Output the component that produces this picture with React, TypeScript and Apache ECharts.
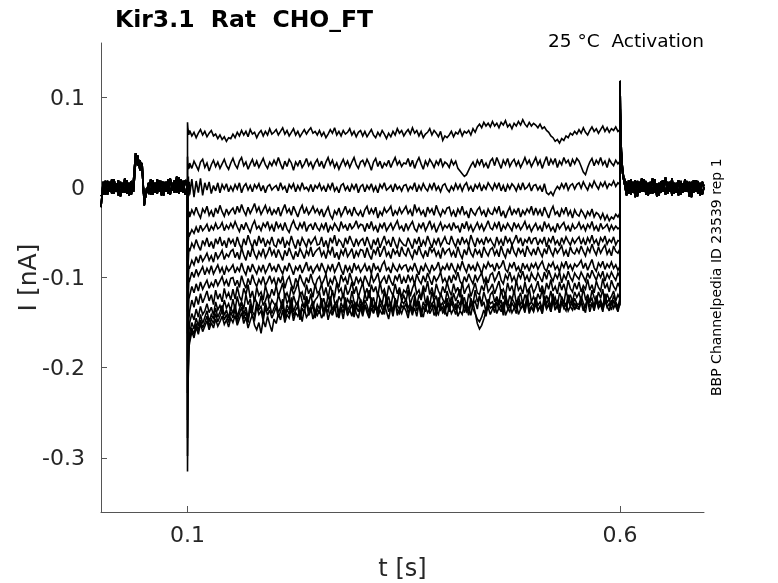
import React, { useEffect, useRef } from "react";
import * as echarts from "echarts";

// ---- sampling grids (seconds) ----
const grid = (start: number, step: number, n: number) =>
  Array.from({ length: n }, (_, i) => Math.round((start + i * step) * 1e5) / 1e5);

const preT = grid(0, 0.0025, 41);
const stepT = [0.1, 0.1004, 0.101, 0.1015, 0.102, ...grid(0.1025, 0.0025, 200)];
const postT = [0.6, 0.6004, 0.601, 0.6015, 0.602, 0.603, 0.604, 0.6055, 0.6075, 0.61, ...grid(0.6125, 0.0025, 34), 0.697];

// ---- holding segment before the step (pA) ----
const pre1 = [-22, 6, -8, 7, -5, 9, -7, 4, -9, 6, -6, 10, -7, 5, -8, 6, 38, 24, 30, 20, -16, -6, 5, -8, 8, -6, 9, -5, 7, -9, 6, -7, 10, -4, 8, -6, 11, -5, 7, -8, 0];
const pre2 = [-10, -7, 7, -8, 6, -7, 9, -5, 8, -10, 5, -6, 8, -9, 7, -5, 28, 35, 19, 27, -20, -3, -6, 9, -8, 5, -7, 8, -9, 6, -5, 9, -8, 5, -6, 12, -7, 9, -6, 8, 0];

// ---- tail after the step (pA) ----
const post1 = [118, 82, 55, 40, 30, 19, 12, 8, 4, -7, 9, -6, 8, -10, 6, -5, 9, -8, 5, -7, 10, -6, 4, -9, 7, -5, 11, -7, 6, -9, 5, -6, 8, -8, 4, -5, 7, -10, 6, -6, 8, -7, 5, -8, 0];
const post2 = [100, 70, 48, 35, 25, 15, 9, 2, -9, 8, -8, 6, -11, 7, -6, 10, -5, 7, -9, 6, -7, 9, -10, 5, -6, 8, -8, 6, -5, 10, -7, 5, -9, 7, -6, 9, -5, 6, -11, 8, -5, 7, -9, 6, 1];

// ---- step segment, one array per sweep (pA): 5 onset samples, then 0.1025 s .. 0.6 s every 2.5 ms ----
const sweep1 = [72, 66, 62, 58, 61,
  63, 57, 61, 55, 60, 64, 58, 62, 56, 60, 63, 57, 59, 54, 58, 53, 56, 51, 55, 54,
  59, 55, 61, 57, 63, 58, 62, 56, 64, 59, 61, 55, 60, 63, 57, 62, 58, 65, 59, 61,
  64, 58, 62, 66, 59, 63, 57, 61, 65, 58, 62, 56, 60, 64, 59, 63, 66, 60, 62, 58,
  63, 57, 61, 55, 59, 64, 60, 66, 58, 62, 57, 63, 59, 61, 65, 58, 62, 56, 61, 63,
  57, 62, 56, 60, 64, 58, 55, 61, 57, 63, 59, 54, 60, 56, 62, 58, 65, 60, 63, 57,
  61, 64, 59, 66, 60, 63, 57, 62, 55, 59, 61, 65, 58, 63, 60, 56, 62, 52, 57, 55,
  58, 62, 56, 61, 59, 64, 57, 62, 60, 63, 58, 65, 61, 67, 70, 66, 72, 68, 71, 67,
  73, 68, 71, 66, 72, 69, 74, 67, 70, 65, 71, 68, 73, 69, 75, 70, 67, 72, 68, 71,
  69, 66, 70, 65, 67, 63, 61, 57, 55, 51, 53, 49, 54, 52, 57, 55, 60, 58, 62, 59,
  64, 60, 66, 61, 58, 63, 67, 62, 65, 60, 64, 68, 62, 66, 61, 65, 63, 67, 62, 64];
const sweep2 = [34, 22, 20, 26, 21,
  27, 21, 29, 24, 19, 28, 31, 22, 27, 18, 25, 30, 23, 28, 21, 26, 31, 24, 20, 27,
  32, 25, 21, 29, 33, 24, 28, 20, 26, 31, 23, 29, 22, 27, 32, 25, 21, 28, 24, 30,
  25, 33, 26, 20, 29, 23, 31, 27, 19, 28, 24, 30, 22, 26, 32, 24, 28, 21, 27, 31,
  23, 29, 21, 28, 33, 25, 30, 22, 27, 20, 26, 31, 24, 29, 22, 28, 33, 25, 21, 28,
  30, 24, 31, 26, 19, 28, 32, 23, 29, 21, 27, 24, 30, 22, 28, 33, 25, 29, 23, 27,
  26, 32, 23, 30, 21, 28, 33, 26, 20, 29, 24, 31, 27, 22, 29, 25, 32, 23, 28, 26,
  22, 30, 25, 29, 21, 18, 15, 12, 14, 19, 24, 28, 22, 30, 25, 31, 23, 27, 21, 29,
  32, 24, 33, 27, 21, 30, 25, 32, 23, 28, 31, 24, 29, 22, 27, 33, 26, 30, 23, 28,
  33, 25, 30, 21, 28, 34, 24, 31, 26, 32, 22, 29, 25, 33, 27, 30, 23, 31, 26, 32,
  29, 23, 17, 14, 22, 28, 32, 24, 30, 26, 33, 25, 29, 22, 31, 27, 24, 30, 26, 29];
const sweep3 = [10, -9, 12, -10, 6,
  -8, 9, -11, 7, -6, 10, -9, 5, -3, 6, -7, 2, -4, 5, -6, 3, -2, 4, -5, 1,
  -4, 3, -2, 5, -6, 1, 4, -3, 2, -5, 3, -1, 4, -4, 2, -6, 1, 3, -3, 0,
  2, -4, 5, -2, 1, -6, 3, -1, 4, -5, 2, -3, 5, -2, 0, -4, 3, -5, 2, -1,
  4, -3, 1, -5, 3, -2, 5, -4, 0, -6, 2, 4, -3, 1, -5, 3, -2, 4, -6, 1,
  3, -5, 2, -2, 4, -4, 1, -6, 3, -1, 5, -3, -1, 2, -5, 4, -2, 1, -4, 2,
  3, -4, 1, -2, 5, -5, 2, -3, 4, -1, -4, 3, -2, 5, -3, 1, -5, 2, 4, -2,
  -5, 1, -3, 4, -2, 3, -4, 2, 5, -3, 1, -5, 3, -1, 4, -4, 2, -2, 5, 1,
  -3, 4, -1, 5, -4, 2, -5, 3, -2, 4, 1, -4, 3, -3, 5, -2, 0, 4, -4, 2,
  3, -3, 1, -5, 4, -6, -8, -5, -9, -3, 1, -2, 4, -1, 5, -3, 2, 4, -2, 3,
  5, -1, 6, 1, -3, 4, 0, 7, 2, -2, 5, 1, 6, -1, 4, 2, 7, 1, 5, 3];
const sweep4 = [-48, -36, -31, -33, -27,
  -33, -25, -30, -22, -29, -34, -24, -28, -21, -31, -26, -33, -23, -29, -20, -27, -32, -24, -30, -26,
  -23, -30, -21, -28, -19, -26, -31, -22, -29, -24, -18, -27, -22, -30, -25, -20, -28, -23, -31, -25,
  -29, -22, -32, -25, -19, -28, -24, -31, -21, -27, -33, -25, -20, -29, -23, -30, -26, -21, -28, -24,
  -30, -24, -33, -27, -22, -31, -35, -26, -30, -23, -32, -27, -21, -29, -25, -32, -22, -28, -31, -26,
  -33, -25, -21, -30, -24, -29, -22, -34, -27, -31, -23, -28, -25, -21, -32, -26, -30, -23, -29, -25,
  -21, -29, -25, -32, -19, -27, -23, -30, -26, -33, -22, -28, -24, -31, -20, -27, -32, -25, -29, -23,
  -22, -31, -26, -33, -24, -29, -21, -30, -27, -34, -23, -28, -31, -25, -22, -30, -26, -33, -24, -29,
  -30, -23, -28, -21, -32, -26, -34, -27, -22, -31, -25, -29, -23, -33, -26, -30, -24, -28, -21, -31,
  -23, -30, -25, -32, -22, -28, -34, -26, -21, -30, -27, -33, -24, -29, -22, -31, -26, -34, -25, -30,
  -32, -25, -29, -34, -27, -31, -24, -33, -28, -30, -35, -29, -36, -31, -37, -33, -35, -30, -33, -28];
const sweep5 = [-82, -63, -58, -50, -52,
  -53, -47, -51, -44, -50, -42, -48, -45, -41, -49, -43, -47, -40, -46, -44, -39, -48, -42, -46, -40,
  -45, -38, -44, -49, -41, -47, -39, -45, -50, -42, -37, -46, -43, -48, -40, -44, -38, -47, -42, -49,
  -38, -45, -41, -48, -39, -46, -50, -42, -37, -44, -47, -40, -45, -38, -49, -43, -41, -47, -39, -45,
  -48, -41, -46, -39, -50, -43, -47, -40, -44, -49, -38, -45, -42, -48, -40, -46, -43, -37, -45, -41,
  -42, -49, -40, -46, -38, -47, -43, -50, -41, -45, -39, -48, -44, -40, -47, -42, -37, -46, -43, -49,
  -40, -47, -42, -38, -46, -49, -41, -45, -39, -48, -43, -37, -46, -41, -50, -44, -39, -47, -42, -45,
  -41, -48, -39, -45, -43, -50, -40, -46, -38, -47, -42, -49, -44, -39, -46, -41, -48, -43, -37, -45,
  -47, -40, -45, -38, -49, -42, -46, -40, -44, -48, -39, -45, -41, -47, -43, -38, -46, -42, -49, -44,
  -40, -47, -43, -49, -38, -45, -41, -48, -44, -50, -40, -46, -42, -39, -47, -43, -49, -41, -46, -44,
  -39, -46, -42, -48, -41, -45, -38, -47, -43, -49, -40, -46, -44, -41, -48, -42, -47, -43, -46, -44];
const sweep6 = [-112, -88, -80, -70, -69,
  -71, -62, -67, -58, -65, -70, -59, -64, -56, -66, -60, -68, -57, -63, -55, -65, -59, -67, -56, -62,
  -58, -66, -55, -63, -68, -57, -64, -53, -61, -67, -58, -65, -54, -62, -56, -66, -59, -63, -55, -64,
  -66, -57, -63, -55, -67, -60, -64, -54, -62, -68, -58, -65, -56, -61, -66, -57, -63, -59, -55, -64,
  -63, -55, -66, -59, -68, -56, -62, -53, -65, -58, -61, -67, -56, -63, -54, -60, -66, -57, -64, -59,
  -57, -65, -55, -62, -69, -58, -64, -56, -67, -60, -54, -63, -59, -66, -55, -62, -68, -57, -61, -64,
  -65, -56, -62, -68, -57, -63, -55, -66, -59, -64, -54, -61, -67, -58, -63, -56, -65, -60, -55, -62,
  -63, -54, -61, -66, -57, -64, -55, -62, -58, -65, -53, -60, -66, -56, -62, -58, -64, -55, -61, -57,
  -62, -66, -55, -63, -58, -65, -54, -61, -57, -64, -59, -53, -62, -56, -65, -58, -61, -55, -63, -57,
  -56, -64, -58, -62, -55, -66, -57, -61, -54, -63, -59, -65, -56, -62, -55, -60, -64, -57, -62, -58,
  -55, -63, -57, -64, -56, -61, -53, -62, -58, -65, -56, -60, -54, -63, -58, -61, -55, -64, -59, -60];
const sweep7 = [-138, -108, -99, -88, -88,
  -89, -81, -86, -77, -84, -75, -82, -78, -73, -81, -76, -83, -72, -79, -75, -70, -80, -74, -77, -71,
  -69, -78, -72, -80, -67, -75, -81, -70, -77, -66, -74, -79, -71, -76, -68, -78, -73, -66, -75, -70,
  -78, -69, -75, -81, -70, -76, -67, -74, -80, -71, -77, -68, -73, -79, -70, -75, -66, -77, -72, -69,
  -67, -76, -71, -79, -69, -74, -66, -78, -72, -80, -70, -75, -67, -77, -73, -68, -79, -71, -76, -69,
  -70, -78, -67, -75, -80, -69, -74, -66, -77, -71, -65, -76, -72, -79, -68, -74, -70, -77, -66, -73,
  -76, -67, -74, -79, -69, -75, -65, -73, -78, -70, -77, -66, -72, -68, -76, -71, -79, -67, -74, -70,
  -68, -76, -71, -78, -66, -74, -79, -69, -75, -65, -73, -77, -68, -74, -70, -78, -66, -72, -76, -69,
  -67, -75, -70, -77, -65, -73, -78, -68, -74, -64, -72, -76, -67, -73, -69, -77, -65, -71, -75, -68,
  -75, -66, -72, -77, -68, -74, -64, -71, -76, -67, -73, -69, -65, -75, -70, -77, -66, -72, -74, -68,
  -73, -65, -71, -76, -67, -72, -63, -70, -75, -66, -73, -68, -64, -74, -69, -76, -65, -71, -73, -68];
const sweep8 = [-162, -128, -117, -104, -102,
  -103, -94, -100, -91, -98, -93, -88, -97, -90, -95, -87, -96, -91, -86, -94, -89, -97, -88, -93, -90,
  -86, -95, -89, -93, -84, -92, -97, -87, -94, -85, -91, -96, -88, -93, -86, -95, -90, -84, -92, -88,
  -94, -85, -91, -96, -87, -93, -84, -90, -97, -88, -92, -86, -95, -89, -83, -93, -87, -95, -90, -86,
  -93, -84, -90, -96, -87, -92, -85, -94, -89, -83, -91, -97, -86, -93, -88, -95, -84, -91, -87, -94,
  -90, -85, -93, -87, -96, -84, -91, -88, -94, -86, -82, -92, -89, -95, -85, -90, -93, -86, -91, -87,
  -86, -94, -88, -92, -84, -91, -97, -87, -93, -85, -90, -95, -86, -92, -89, -83, -94, -88, -91, -85,
  -92, -84, -90, -95, -86, -91, -82, -89, -94, -85, -91, -87, -93, -84, -89, -96, -86, -90, -83, -88,
  -86, -93, -84, -90, -87, -81, -91, -94, -85, -89, -83, -92, -88, -95, -84, -90, -86, -93, -85, -89,
  -84, -91, -86, -82, -90, -93, -85, -88, -83, -91, -87, -94, -84, -89, -82, -90, -86, -92, -85, -88,
  -85, -81, -90, -84, -92, -86, -80, -89, -93, -84, -88, -82, -91, -85, -89, -83, -90, -86, -92, -87];
const sweep9 = [-192, -152, -140, -124, -122,
  -120, -110, -117, -107, -115, -105, -113, -108, -103, -112, -106, -110, -102, -109, -104, -99, -108, -103, -110, -101,
  -100, -109, -103, -111, -98, -106, -112, -101, -108, -97, -105, -110, -102, -107, -99, -109, -104, -98, -106, -101,
  -110, -100, -106, -98, -112, -103, -99, -108, -113, -101, -107, -97, -104, -109, -100, -106, -96, -105, -110, -102,
  -99, -108, -103, -96, -110, -102, -107, -98, -105, -111, -97, -104, -100, -108, -95, -103, -109, -99, -106, -101,
  -108, -98, -104, -110, -96, -105, -101, -95, -108, -103, -99, -107, -97, -104, -109, -98, -103, -96, -107, -100,
  -106, -97, -104, -99, -108, -96, -103, -107, -98, -105, -95, -102, -108, -98, -104, -100, -94, -105, -101, -107,
  -98, -106, -97, -103, -94, -104, -108, -99, -105, -96, -102, -107, -97, -104, -99, -95, -105, -100, -106, -97,
  -95, -104, -99, -93, -103, -107, -97, -102, -94, -104, -99, -106, -96, -101, -93, -103, -98, -105, -95, -100,
  -103, -95, -100, -105, -94, -102, -92, -99, -104, -96, -101, -94, -106, -97, -102, -93, -100, -104, -95, -99,
  -102, -94, -99, -104, -95, -101, -92, -98, -103, -95, -100, -93, -104, -96, -101, -94, -99, -103, -95, -100];
const sweep10 = [-228, -178, -162, -146, -142,
  -137, -125, -133, -121, -130, -118, -128, -122, -115, -126, -119, -130, -114, -124, -118, -127, -112, -122, -117, -125,
  -113, -124, -110, -121, -126, -112, -119, -108, -123, -115, -127, -111, -120, -116, -125, -109, -118, -122, -113, -120,
  -109, -121, -114, -106, -122, -117, -124, -110, -119, -113, -105, -120, -116, -125, -108, -118, -112, -122, -107, -117,
  -115, -107, -120, -111, -124, -109, -117, -121, -106, -116, -112, -123, -108, -119, -114, -105, -118, -110, -122, -113,
  -106, -119, -112, -123, -108, -116, -110, -121, -105, -117, -113, -124, -109, -115, -120, -107, -118, -111, -122, -114,
  -117, -108, -121, -112, -106, -118, -114, -123, -109, -116, -104, -119, -111, -122, -107, -115, -120, -110, -117, -105,
  -114, -120, -107, -116, -111, -122, -105, -118, -112, -108, -121, -114, -106, -117, -119, -109, -115, -103, -116, -112,
  -107, -118, -111, -104, -117, -113, -120, -106, -115, -109, -119, -103, -114, -110, -118, -105, -116, -112, -108, -117,
  -112, -104, -116, -109, -119, -106, -113, -102, -115, -110, -118, -105, -114, -107, -117, -103, -112, -116, -106, -113,
  -105, -116, -109, -113, -102, -114, -108, -117, -104, -111, -115, -101, -112, -107, -116, -103, -110, -114, -106, -112];
const sweep11 = [-258, -198, -180, -160, -156,
  -150, -140, -147, -135, -144, -132, -141, -137, -129, -139, -133, -142, -127, -136, -131, -138, -125, -134, -129, -137,
  -124, -136, -121, -132, -127, -135, -119, -130, -124, -137, -122, -128, -133, -120, -131, -126, -118, -133, -125, -129,
  -132, -119, -127, -135, -117, -129, -124, -134, -120, -128, -131, -116, -126, -133, -121, -129, -118, -132, -125, -122,
  -116, -130, -123, -134, -119, -127, -114, -128, -132, -121, -126, -117, -131, -124, -129, -115, -127, -133, -120, -125,
  -131, -118, -126, -114, -129, -122, -134, -117, -124, -130, -115, -127, -121, -133, -118, -125, -128, -113, -126, -120,
  -127, -114, -130, -122, -118, -132, -119, -125, -113, -128, -123, -131, -116, -126, -120, -133, -117, -124, -129, -115,
  -124, -131, -117, -126, -120, -113, -128, -122, -133, -118, -125, -130, -114, -127, -121, -129, -116, -124, -132, -119,
  -116, -127, -121, -129, -113, -124, -118, -131, -120, -126, -114, -128, -123, -117, -130, -119, -125, -112, -127, -121,
  -128, -118, -124, -113, -129, -120, -126, -115, -127, -122, -131, -117, -123, -129, -114, -125, -119, -127, -116, -122,
  -117, -126, -112, -124, -120, -128, -114, -122, -127, -116, -123, -113, -129, -118, -125, -121, -115, -126, -119, -124];
const sweep12 = [-278, -212, -192, -170, -165,
  -162, -150, -157, -145, -154, -141, -151, -144, -137, -149, -141, -146, -134, -144, -138, -131, -142, -136, -145, -133,
  -140, -130, -144, -135, -128, -141, -133, -145, -129, -138, -142, -127, -136, -132, -143, -128, -137, -131, -140, -134,
  -128, -139, -133, -124, -141, -130, -136, -122, -138, -131, -127, -142, -129, -134, -121, -137, -132, -126, -140, -130,
  -135, -123, -138, -129, -133, -121, -136, -130, -126, -140, -128, -134, -122, -137, -131, -125, -139, -127, -133, -124,
  -136, -125, -131, -139, -122, -134, -128, -137, -124, -130, -136, -121, -133, -127, -138, -123, -131, -135, -126, -129,
  -124, -134, -129, -137, -121, -132, -126, -139, -127, -133, -120, -135, -130, -125, -138, -122, -131, -128, -136, -123,
  -133, -121, -129, -136, -125, -131, -119, -134, -128, -137, -123, -130, -126, -135, -120, -132, -127, -138, -124, -129,
  -127, -134, -122, -131, -125, -137, -120, -129, -133, -123, -128, -135, -121, -130, -126, -134, -119, -131, -127, -132,
  -122, -131, -127, -135, -120, -129, -124, -133, -118, -130, -126, -134, -121, -128, -132, -119, -127, -131, -123, -129,
  -130, -121, -128, -134, -119, -127, -123, -132, -120, -129, -125, -133, -118, -128, -124, -131, -120, -127, -133, -122];
const sweep13 = [-298, -222, -200, -178, -172,
  -168, -156, -163, -151, -159, -147, -156, -150, -143, -154, -146, -151, -140, -149, -143, -137, -147, -141, -150, -138,
  -145, -135, -149, -140, -133, -146, -138, -150, -134, -143, -147, -132, -141, -137, -148, -133, -142, -136, -145, -139,
  -133, -144, -138, -129, -146, -135, -141, -127, -143, -136, -132, -147, -134, -139, -126, -142, -137, -131, -145, -135,
  -140, -128, -143, -134, -138, -126, -141, -135, -131, -145, -133, -139, -127, -142, -136, -130, -144, -132, -138, -129,
  -141, -130, -136, -144, -127, -139, -133, -142, -129, -135, -141, -126, -138, -132, -143, -128, -136, -140, -131, -134,
  -129, -139, -134, -142, -126, -137, -131, -144, -132, -138, -125, -140, -135, -130, -143, -127, -136, -133, -141, -128,
  -138, -126, -134, -141, -130, -136, -124, -139, -133, -142, -128, -135, -140, -146, -149, -144, -136, -143, -129, -134,
  -132, -139, -127, -136, -130, -142, -125, -134, -138, -128, -133, -140, -126, -135, -131, -139, -124, -136, -132, -137,
  -127, -136, -132, -140, -125, -134, -129, -138, -123, -135, -131, -139, -126, -133, -137, -124, -132, -136, -128, -134,
  -135, -126, -133, -139, -124, -132, -128, -137, -125, -134, -130, -138, -123, -133, -129, -136, -125, -132, -138, -127];
const sweep14 = [-315, -232, -202, -182, -175,
  -172, -160, -167, -155, -163, -151, -160, -154, -148, -158, -150, -156, -146, -154, -149, -143, -152, -147, -155, -145,
  -150, -142, -153, -146, -139, -151, -144, -156, -148, -141, -153, -158, -150, -162, -147, -155, -143, -152, -160, -146,
  -151, -140, -147, -136, -150, -141, -145, -134, -148, -139, -143, -137, -149, -135, -144, -140, -133, -146, -138, -142,
  -136, -145, -139, -132, -147, -137, -142, -130, -144, -138, -134, -146, -131, -141, -136, -143, -129, -140, -145, -133,
  -143, -131, -139, -145, -134, -140, -128, -144, -136, -141, -130, -138, -146, -133, -139, -127, -142, -135, -140, -132,
  -137, -145, -131, -140, -134, -143, -129, -138, -144, -132, -139, -135, -128, -142, -137, -141, -130, -139, -136, -143,
  -132, -140, -135, -129, -143, -137, -141, -130, -138, -134, -142, -128, -139, -151, -157, -153, -146, -138, -133, -141,
  -135, -129, -140, -133, -138, -127, -142, -136, -131, -139, -134, -128, -141, -135, -130, -137, -126, -140, -133, -138,
  -129, -137, -132, -140, -126, -135, -130, -138, -125, -136, -131, -139, -127, -134, -128, -137, -132, -124, -136, -130,
  -134, -127, -137, -131, -125, -138, -129, -135, -124, -133, -128, -136, -126, -132, -137, -125, -134, -129, -135, -130];

const sweeps = [sweep1, sweep2, sweep3, sweep4, sweep5, sweep6, sweep7, sweep8, sweep9, sweep10, sweep11, sweep12, sweep13, sweep14];

const yTicks = [-0.3, -0.2, -0.1, 0, 0.1];
const xTicks = [0.1, 0.6];

const FONT = "DejaVu Sans";

export default function App() {
  const ref = useRef<HTMLDivElement>(null);
  useEffect(() => {
    if (!ref.current) return;
    const chart = echarts.init(ref.current, undefined, { renderer: "svg" });
    const toPts = (ts: number[], vs: number[]) => ts.map((t, i) => [t, vs[i] / 1000]);
    const series = sweeps.map((sw, k) => ({
      type: "line",
      data: [
        ...toPts(preT, k % 2 ? pre2 : pre1),
        ...toPts(stepT, sw),
        ...toPts(postT, k % 2 ? post2 : post1),
      ],
      showSymbol: false,
      symbol: "none",
      silent: true,
      lineStyle: { color: "#000", width: 1.6, join: "miter", miterLimit: 3 },
    }));
    chart.setOption({
      animation: false,
      grid: { left: 101, top: 43, width: 603, height: 469, containLabel: false, outerBoundsMode: "none" },
      xAxis: {
        type: "value",
        min: 0,
        max: 0.697,
        name: "t [s]",
        nameLocation: "middle",
        nameGap: 44,
        nameMoveOverlap: false,
        nameTextStyle: { fontFamily: FONT, fontSize: 24, color: "#262626" },
        axisLine: { show: true, onZero: false, lineStyle: { color: "#555", width: 1 } },
        axisTick: { show: true, inside: true, length: 6, customValues: xTicks, lineStyle: { color: "#555" } },
        axisLabel: {
          customValues: xTicks,
          fontFamily: FONT,
          fontSize: 22,
          color: "#262626",
          margin: 11,
          formatter: (v: number) => String(v),
        },
        splitLine: { show: false },
      },
      yAxis: {
        type: "value",
        min: -0.36,
        max: 0.16,
        name: "I [nA]",
        nameLocation: "middle",
        nameGap: 61,
        nameMoveOverlap: false,
        nameRotate: 90,
        nameTextStyle: { fontFamily: FONT, fontSize: 25, color: "#262626" },
        axisLine: { show: true, onZero: false, lineStyle: { color: "#555", width: 1 } },
        axisTick: { show: true, inside: true, length: 6, customValues: yTicks, lineStyle: { color: "#555" } },
        axisLabel: {
          customValues: yTicks,
          fontFamily: FONT,
          fontSize: 22,
          color: "#262626",
          margin: 16,
          formatter: (v: number) => String(Math.round(v * 10) / 10),
        },
        splitLine: { show: false },
      },
      graphic: [
        {
          type: "text",
          left: 115,
          top: 7,
          style: { text: "Kir3.1  Rat  CHO_FT", fontFamily: FONT, fontSize: 23.5, fontWeight: "bold", fill: "#000" },
        },
        {
          type: "text",
          right: 74,
          top: 31,
          style: { text: "25 °C  Activation", fontFamily: FONT, fontSize: 18.5, fill: "#000" },
        },
        {
          type: "text",
          x: 709,
          y: 396,
          rotation: Math.PI / 2,
          style: { text: "BBP Channelpedia ID 23539 rep 1", fontFamily: FONT, fontSize: 14, fill: "#000", textVerticalAlign: "top" },
        },
      ],
      series,
    });
    return () => chart.dispose();
  }, []);
  return <div ref={ref} style={{ position: "fixed", left: 0, top: 0, width: 778, height: 583 }} />;
}
